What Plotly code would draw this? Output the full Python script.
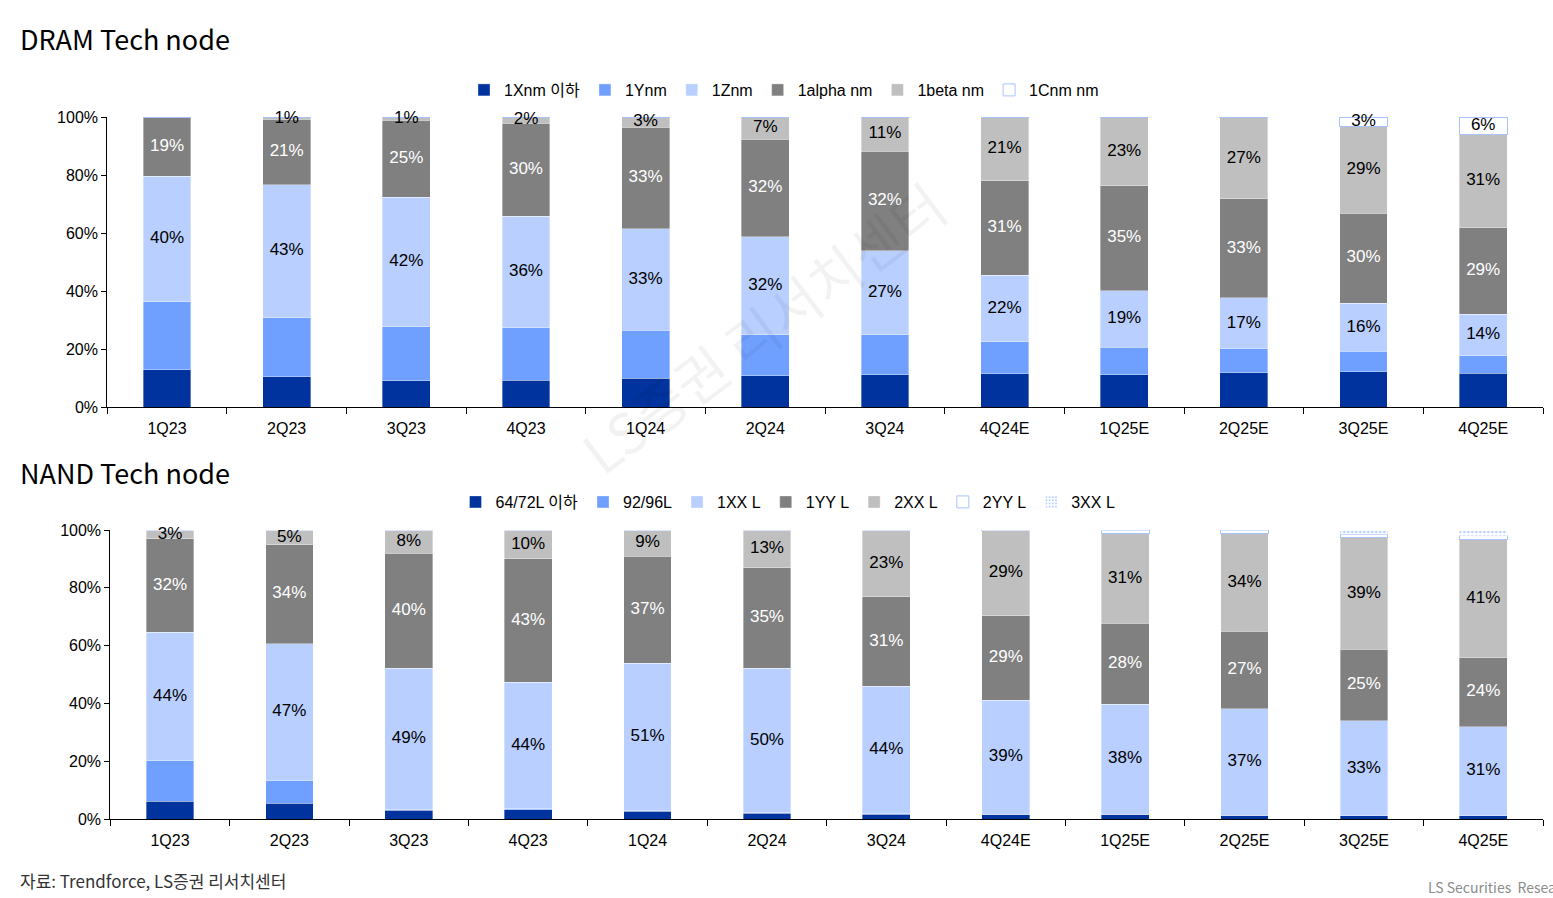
import plotly.graph_objects as go

# ---------------- data ----------------
quarters = ["1Q23", "2Q23", "3Q23", "4Q23", "1Q24", "2Q24", "3Q24", "4Q24E",
            "1Q25E", "2Q25E", "3Q25E", "4Q25E"]

# DRAM tech-node mix (raw shares, %; chart is normalised to 100%)
dram_1x = [11.9, 9.7, 8.5, 8.6, 9.4, 10.2, 10.3, 11.0, 10.7, 11.5, 11.7, 11.3]
dram_1y = [21.8, 19.1, 17.6, 16.9, 15.6, 13.5, 13.0, 10.4, 9.2, 7.9, 6.8, 5.8]
dram_1z = [40, 43, 42, 36, 33, 32, 27, 22, 19, 17, 16, 14]
dram_1alpha = [19, 21, 25, 30, 33, 32, 32, 31, 35, 33, 30, 29]
dram_1beta = [0, 0.8, 1, 2, 3.4, 7.3, 11, 21, 23, 27, 29, 31]
dram_1c = [0, 0, 0, 0, 0, 0, 0, 0, 0, 0.3, 3, 6]

# NAND tech-node mix (raw shares, %)
nand_64 = [6.1, 5.4, 3.0, 3.2, 2.6, 2.0, 1.7, 1.6, 1.7, 1.3, 1.2, 1.2]
nand_92 = [13.8, 7.8, 0.2, 0.3, 0.2, 0.2, 0.1, 0.1, 0, 0, 0, 0]
nand_1xx = [44, 47, 49, 44, 51, 50, 44, 39, 38, 37, 33, 31]
nand_1yy = [32, 34, 40, 43, 37, 35, 31, 29, 28, 27, 25, 24]
nand_2xx = [3, 5, 8, 10, 9, 13, 23, 29, 31, 34, 39, 41]
nand_2yy = [0, 0, 0, 0, 0, 0, 0, 0.3, 1.2, 1.2, 1.2, 1.4]
nand_3xx = [0, 0, 0, 0, 0, 0, 0, 0, 0, 0, 1.4, 2.0]

y_ticks = [0, 20, 40, 60, 80, 100]
y_ticklabels = ["0%", "20%", "40%", "60%", "80%", "100%"]

# ---------------- styling ----------------
W, H = 1553, 898
SANS = "Liberation Sans, Arial, Noto Sans CJK KR, sans-serif"
KR = "Noto Sans CJK KR, Noto Sans, sans-serif"
DARK_BLUE = "#00339e"
MID_BLUE = "#70a0ff"
LIGHT_BLUE = "#b9cfff"
DARK_GRAY = "#808080"
LIGHT_GRAY = "#bfbfbf"


def fx(p):
    return p / W


def fy(p):
    return 1 - p / H


def labels(vals):
    return [f"{round(v)}%" if round(v) >= 1 else "" for v in vals]


fig = go.Figure()

dram_specs = [
    ("1Xnm 이하", dram_1x, dict(color=DARK_BLUE), "black", False),
    ("1Ynm", dram_1y, dict(color=MID_BLUE), "black", False),
    ("1Znm", dram_1z, dict(color=LIGHT_BLUE), "black", True),
    ("1alpha nm", dram_1alpha, dict(color=DARK_GRAY), "white", True),
    ("1beta nm", dram_1beta, dict(color=LIGHT_GRAY), "black", True),
    ("1Cnm nm", dram_1c, dict(color="white", line=dict(color="#a9c3ff", width=1)), "black", True),
]
nand_specs = [
    ("64/72L 이하", nand_64, dict(color=DARK_BLUE), "black", False),
    ("92/96L", nand_92, dict(color=MID_BLUE), "black", False),
    ("1XX L", nand_1xx, dict(color=LIGHT_BLUE), "black", True),
    ("1YY L", nand_1yy, dict(color=DARK_GRAY), "white", True),
    ("2XX L", nand_2xx, dict(color=LIGHT_GRAY), "black", True),
    ("2YY L", nand_2yy, dict(color="white", line=dict(color="#a9c3ff", width=1)), "black", False),
    ("3XX L", nand_3xx, dict(color="white", pattern=dict(shape=".", fgcolor="#6f9fff",
                                                          bgcolor="white", size=4, solidity=0.35)),
     "black", False),
]

n = len(quarters)
label_traces = []
for specs, xa, ya, lg in [(dram_specs, "x", "y", "legend"), (nand_specs, "x2", "y2", "legend2")]:
    totals = [sum(s[1][i] for s in specs) for i in range(n)]
    base = [0.0] * n
    for name, vals, marker, tcol, show in specs:
        m = dict(marker)
        if "line" not in m:
            m["line"] = dict(color="rgba(255,255,255,0.6)", width=0.6)
        fig.add_trace(go.Bar(
            x=quarters, y=vals, name=name, marker=m,
            xaxis=xa, yaxis=ya, legend=lg, hoverinfo="x+y+name",
        ))
        if show:
            mids = [(base[i] + vals[i] / 2) / totals[i] * 100 for i in range(n)]
            label_traces.append(go.Scatter(
                x=quarters, y=mids, mode="text", text=labels(vals),
                textposition="middle center",
                textfont=dict(color=tcol, size=17, family=SANS),
                xaxis=xa, yaxis=ya, showlegend=False, hoverinfo="skip", cliponaxis=False,
            ))
        base = [base[i] + vals[i] for i in range(n)]

for t in label_traces:
    fig.add_trace(t)

axis_common_x = dict(type="category", range=[-0.5, n - 0.5], autorange=False,
                     tickson="boundaries", ticks="outside", ticklen=6,
                     tickcolor="black", showline=True, linecolor="black", linewidth=1,
                     showgrid=False, zeroline=False, automargin=False, ticklabelstandoff=7,
                     tickfont=dict(size=16, family=SANS, color="black"))
axis_common_y = dict(range=[0, 100], autorange=False, tickmode="array", tickvals=y_ticks,
                     ticktext=y_ticklabels,
                     ticks="outside", ticklen=5, tickcolor="black", showline=True,
                     linecolor="black", linewidth=1, showgrid=False, zeroline=False,
                     automargin=False,
                     tickfont=dict(size=16, family=SANS, color="black"))

legend_common = dict(orientation="h", xanchor="center", yanchor="middle",
                     font=dict(size=16, family=SANS, color="black"),
                     itemwidth=30, bgcolor="rgba(0,0,0,0)", traceorder="normal")

fig.update_layout(
    width=W, height=H, margin=dict(l=0, r=0, t=0, b=0),
    paper_bgcolor="white", plot_bgcolor="white",
    barmode="stack", barnorm="percent", bargap=0.6,
    xaxis=dict(domain=[fx(107.2), fx(1543)], anchor="y", **axis_common_x),
    yaxis=dict(domain=[fy(407), fy(117)], anchor="x", **axis_common_y),
    xaxis2=dict(domain=[fx(110.3), fx(1543)], anchor="y2", **axis_common_x),
    yaxis2=dict(domain=[fy(819), fy(530)], anchor="x2", **axis_common_y),
    legend=dict(x=fx(784), y=fy(90), **legend_common),
    legend2=dict(x=fx(788), y=fy(502), **legend_common),
    showlegend=True,
)

annotations = [
    dict(text="DRAM Tech node", x=fx(18), y=fy(38), xanchor="left", yanchor="middle",
         font=dict(size=27, family=KR, color="black")),
    dict(text="NAND Tech node", x=fx(18), y=fy(472), xanchor="left", yanchor="middle",
         font=dict(size=27, family=KR, color="black")),
    dict(text="자료: Trendforce, LS증권 리서치센터", x=fx(18), y=fy(880), xanchor="left",
         yanchor="middle", font=dict(size=17, family=KR, color="#333333")),
    dict(text="LS Securities  Research Center", x=fx(1426), y=fy(887), xanchor="left",
         yanchor="middle", font=dict(size=14, family=KR, color="#8c8c8c")),
    dict(text="LS증권 리서치센터", x=fx(762), y=fy(326), xanchor="center", yanchor="middle",
         textangle=-37, font=dict(size=56, family=KR, color="rgba(0,0,0,0.05)")),
]
for a in annotations:
    a.update(xref="paper", yref="paper", showarrow=False)
fig.update_layout(annotations=annotations)

fig.write_html("out.html", config={"displayModeBar": False},
               post_script="document.body.style.margin='0';document.body.style.overflow='hidden';")
